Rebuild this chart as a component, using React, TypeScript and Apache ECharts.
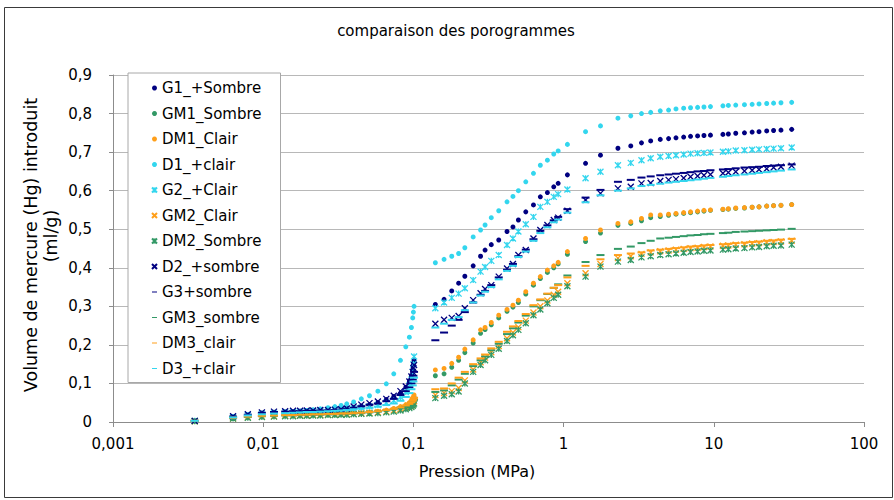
import React, { useEffect, useRef } from "react";
import * as echarts from "echarts";

// ---- data -------------------------------------------------------------
// low-pressure (MPa) and high-pressure (MPa) measurement points
const LP_P = [0.0035, 0.0063, 0.0079, 0.0098, 0.0118, 0.014, 0.0158, 0.0176, 0.0195, 0.0215, 0.024, 0.027, 0.03, 0.033, 0.036, 0.04, 0.045, 0.051, 0.058, 0.066, 0.074, 0.082, 0.089, 0.094, 0.097, 0.099, 0.1, 0.101];
const HP_P = [0.14, 0.16, 0.18, 0.2, 0.22, 0.25, 0.28, 0.3, 0.33, 0.37, 0.42, 0.46, 0.5, 0.56, 0.63, 0.7, 0.78, 0.86, 0.92, 1.06, 1.4, 1.76, 2.3, 2.8, 3.3, 3.8, 4.4, 5.0, 5.6, 6.3, 7.0, 7.8, 8.6, 9.5, 11.5, 12.5, 14, 16, 18, 20, 22.5, 25, 28, 33];

const G1_LP = [0.003, 0.014, 0.019, 0.023, 0.025, 0.026, 0.027, 0.028, 0.029, 0.03, 0.031, 0.032, 0.033, 0.034, 0.036, 0.038, 0.041, 0.045, 0.05, 0.058, 0.066, 0.075, 0.09, 0.105, 0.12, 0.135, 0.15, 0.16];
const G1_HP = [0.305, 0.318, 0.34, 0.36, 0.378, 0.405, 0.43, 0.446, 0.46, 0.472, 0.494, 0.506, 0.524, 0.545, 0.563, 0.584, 0.595, 0.61, 0.619, 0.641, 0.671, 0.692, 0.71, 0.716, 0.724, 0.729, 0.733, 0.735, 0.737, 0.739, 0.741, 0.742, 0.743, 0.744, 0.746, 0.747, 0.749, 0.75, 0.752, 0.753, 0.755, 0.756, 0.757, 0.759];

const GM1_LP = [0.003, 0.01, 0.012, 0.014, 0.015, 0.016, 0.017, 0.017, 0.018, 0.018, 0.019, 0.019, 0.02, 0.02, 0.021, 0.022, 0.023, 0.025, 0.027, 0.03, 0.033, 0.037, 0.042, 0.046, 0.05, 0.055, 0.06, 0.065];
const GM1_HP = [0.12, 0.125, 0.142, 0.16, 0.18, 0.205, 0.23, 0.24, 0.252, 0.27, 0.287, 0.298, 0.31, 0.332, 0.355, 0.372, 0.388, 0.4, 0.41, 0.435, 0.468, 0.49, 0.51, 0.515, 0.522, 0.53, 0.533, 0.536, 0.539, 0.541, 0.543, 0.545, 0.547, 0.549, 0.551, 0.552, 0.554, 0.555, 0.557, 0.558, 0.56, 0.561, 0.562, 0.564];

const DM1_LP = [0.003, 0.01, 0.013, 0.015, 0.016, 0.017, 0.018, 0.018, 0.019, 0.019, 0.02, 0.02, 0.021, 0.021, 0.022, 0.023, 0.024, 0.026, 0.028, 0.031, 0.035, 0.04, 0.045, 0.05, 0.055, 0.06, 0.065, 0.07];
const DM1_HP = [0.135, 0.139, 0.152, 0.168, 0.189, 0.213, 0.239, 0.245, 0.258, 0.277, 0.292, 0.303, 0.316, 0.338, 0.36, 0.377, 0.394, 0.405, 0.414, 0.442, 0.476, 0.498, 0.515, 0.519, 0.528, 0.537, 0.537, 0.539, 0.541, 0.543, 0.545, 0.547, 0.549, 0.55, 0.552, 0.553, 0.555, 0.556, 0.557, 0.558, 0.56, 0.561, 0.562, 0.564];

const D1_LP = [0.003, 0.013, 0.018, 0.021, 0.023, 0.025, 0.026, 0.028, 0.03, 0.032, 0.034, 0.037, 0.04, 0.043, 0.047, 0.052, 0.06, 0.068, 0.08, 0.099, 0.125, 0.16, 0.195, 0.22, 0.245, 0.27, 0.285, 0.3];
const D1_HP = [0.413, 0.422, 0.43, 0.437, 0.452, 0.48, 0.498, 0.511, 0.53, 0.548, 0.571, 0.585, 0.6, 0.623, 0.645, 0.666, 0.679, 0.695, 0.703, 0.72, 0.753, 0.768, 0.788, 0.794, 0.8, 0.803, 0.807, 0.809, 0.812, 0.814, 0.815, 0.816, 0.817, 0.818, 0.82, 0.821, 0.822, 0.823, 0.824, 0.825, 0.826, 0.827, 0.828, 0.829];

const G2_LP = [0.003, 0.013, 0.018, 0.022, 0.024, 0.025, 0.026, 0.027, 0.028, 0.028, 0.029, 0.03, 0.031, 0.032, 0.033, 0.035, 0.037, 0.04, 0.044, 0.05, 0.056, 0.065, 0.078, 0.095, 0.11, 0.13, 0.15, 0.17];
const G2_HP = [0.295, 0.31, 0.322, 0.333, 0.347, 0.368, 0.39, 0.402, 0.418, 0.433, 0.459, 0.476, 0.494, 0.513, 0.532, 0.558, 0.571, 0.584, 0.591, 0.603, 0.632, 0.649, 0.666, 0.672, 0.679, 0.684, 0.688, 0.69, 0.692, 0.694, 0.696, 0.697, 0.698, 0.699, 0.701, 0.702, 0.704, 0.705, 0.706, 0.707, 0.708, 0.709, 0.71, 0.712];

const GM2_LP = [0.002, 0.009, 0.012, 0.014, 0.015, 0.016, 0.016, 0.017, 0.017, 0.018, 0.018, 0.019, 0.019, 0.02, 0.02, 0.021, 0.022, 0.023, 0.025, 0.027, 0.03, 0.033, 0.037, 0.04, 0.043, 0.046, 0.05, 0.054];
const GM2_HP = [0.07, 0.075, 0.08, 0.088, 0.108, 0.136, 0.155, 0.167, 0.181, 0.197, 0.217, 0.232, 0.246, 0.263, 0.284, 0.3, 0.315, 0.33, 0.338, 0.36, 0.386, 0.41, 0.425, 0.43, 0.436, 0.44, 0.443, 0.445, 0.447, 0.449, 0.451, 0.452, 0.454, 0.455, 0.457, 0.458, 0.46, 0.461, 0.463, 0.464, 0.466, 0.467, 0.468, 0.47];

const DM2_LP = [0.002, 0.009, 0.011, 0.013, 0.014, 0.015, 0.015, 0.016, 0.016, 0.017, 0.017, 0.018, 0.018, 0.019, 0.019, 0.02, 0.021, 0.022, 0.023, 0.025, 0.027, 0.03, 0.033, 0.036, 0.039, 0.042, 0.045, 0.048];
const DM2_HP = [0.062, 0.068, 0.072, 0.079, 0.1, 0.13, 0.148, 0.16, 0.174, 0.19, 0.21, 0.225, 0.239, 0.256, 0.277, 0.292, 0.308, 0.322, 0.33, 0.352, 0.377, 0.403, 0.416, 0.42, 0.427, 0.43, 0.433, 0.435, 0.437, 0.439, 0.441, 0.442, 0.444, 0.445, 0.447, 0.448, 0.45, 0.451, 0.453, 0.454, 0.456, 0.457, 0.458, 0.46];

const D2_LP = [0.003, 0.015, 0.02, 0.025, 0.027, 0.028, 0.029, 0.029, 0.03, 0.03, 0.031, 0.031, 0.032, 0.033, 0.035, 0.04, 0.045, 0.049, 0.053, 0.06, 0.068, 0.08, 0.092, 0.105, 0.118, 0.13, 0.14, 0.148];
const D2_HP = [0.255, 0.265, 0.27, 0.275, 0.295, 0.316, 0.334, 0.345, 0.355, 0.377, 0.398, 0.41, 0.433, 0.446, 0.476, 0.498, 0.511, 0.524, 0.53, 0.548, 0.576, 0.593, 0.606, 0.61, 0.619, 0.62, 0.625, 0.628, 0.63, 0.633, 0.636, 0.638, 0.64, 0.642, 0.645, 0.647, 0.649, 0.651, 0.653, 0.655, 0.657, 0.66, 0.662, 0.665];

const G3_LP = [0.003, 0.014, 0.019, 0.024, 0.026, 0.027, 0.028, 0.028, 0.029, 0.029, 0.03, 0.03, 0.031, 0.032, 0.033, 0.037, 0.041, 0.045, 0.048, 0.054, 0.06, 0.07, 0.08, 0.09, 0.1, 0.11, 0.12, 0.13];
const G3_HP = [0.212, 0.232, 0.25, 0.265, 0.285, 0.31, 0.33, 0.34, 0.355, 0.375, 0.395, 0.41, 0.43, 0.447, 0.474, 0.496, 0.51, 0.523, 0.532, 0.552, 0.582, 0.602, 0.623, 0.628, 0.634, 0.637, 0.64, 0.642, 0.644, 0.646, 0.648, 0.65, 0.651, 0.653, 0.655, 0.656, 0.658, 0.66, 0.661, 0.662, 0.664, 0.665, 0.666, 0.668];

const GM3_LP = [0.003, 0.01, 0.013, 0.015, 0.016, 0.017, 0.017, 0.018, 0.018, 0.019, 0.019, 0.02, 0.02, 0.021, 0.021, 0.022, 0.023, 0.025, 0.027, 0.03, 0.033, 0.037, 0.041, 0.045, 0.048, 0.051, 0.055, 0.058];
const GM3_HP = [0.078, 0.082, 0.095, 0.11, 0.125, 0.145, 0.16, 0.17, 0.186, 0.203, 0.228, 0.243, 0.258, 0.276, 0.3, 0.316, 0.332, 0.348, 0.357, 0.38, 0.415, 0.433, 0.449, 0.455, 0.464, 0.47, 0.476, 0.478, 0.48, 0.482, 0.484, 0.485, 0.487, 0.488, 0.49, 0.491, 0.493, 0.494, 0.495, 0.496, 0.497, 0.498, 0.499, 0.501];

const DM3_LP = [0.003, 0.011, 0.014, 0.016, 0.017, 0.018, 0.018, 0.019, 0.019, 0.02, 0.02, 0.021, 0.021, 0.022, 0.022, 0.023, 0.024, 0.026, 0.028, 0.031, 0.034, 0.038, 0.043, 0.047, 0.051, 0.055, 0.059, 0.063];
const DM3_HP = [0.085, 0.087, 0.1, 0.115, 0.13, 0.15, 0.165, 0.175, 0.191, 0.208, 0.234, 0.248, 0.262, 0.28, 0.303, 0.318, 0.333, 0.348, 0.355, 0.375, 0.405, 0.422, 0.433, 0.437, 0.44, 0.445, 0.447, 0.449, 0.451, 0.453, 0.455, 0.456, 0.458, 0.459, 0.461, 0.462, 0.464, 0.465, 0.467, 0.468, 0.47, 0.471, 0.473, 0.475];

const D3_LP = [0.003, 0.012, 0.017, 0.02, 0.022, 0.023, 0.024, 0.025, 0.026, 0.026, 0.027, 0.028, 0.029, 0.03, 0.031, 0.033, 0.035, 0.037, 0.04, 0.044, 0.048, 0.055, 0.065, 0.075, 0.085, 0.095, 0.105, 0.115];
const D3_HP = [0.245, 0.255, 0.265, 0.272, 0.29, 0.31, 0.328, 0.338, 0.35, 0.37, 0.392, 0.405, 0.428, 0.442, 0.47, 0.49, 0.505, 0.518, 0.525, 0.543, 0.57, 0.588, 0.6, 0.606, 0.612, 0.615, 0.618, 0.621, 0.623, 0.625, 0.627, 0.629, 0.631, 0.633, 0.636, 0.638, 0.64, 0.642, 0.644, 0.646, 0.648, 0.65, 0.652, 0.655];

const X_TICK_LABELS = ["0,001", "0,01", "0,1", "1", "10", "100"];
const Y_TICK_LABELS = ["0", "0,1", "0,2", "0,3", "0,4", "0,5", "0,6", "0,7", "0,8", "0,9"];

const TITLE = "comparaison des porogrammes";
const X_NAME = "Pression (MPa)";
const Y_NAME_1 = "Volume de mercure (Hg) introduit";
const Y_NAME_2 = "(ml/g)";

// ---- styles -----------------------------------------------------------
const FONT = "DejaVu Sans";
const NAVY = "#000080";
const GREEN = "#339966";
const ORANGE = "#FF9F1A";
const CYAN = "#33D6EE";

const DOT = "circle";
const XMARK = "path://M0,0L10,10M10,0L0,10";
const STAR = "path://M0,0L10,10M10,0L0,10M5,0L5,10";
const DASH = "path://M0,0H10V2H0Z";

type Def = { name: string; color: string; symbol: string; size: number | number[]; stroke: boolean; lp: number[]; hp: number[] };

const DEFS: Def[] = [
  { name: "G1_+Sombre", color: NAVY, symbol: DOT, size: 5, stroke: false, lp: G1_LP, hp: G1_HP },
  { name: "GM1_Sombre", color: GREEN, symbol: DOT, size: 5, stroke: false, lp: GM1_LP, hp: GM1_HP },
  { name: "DM1_Clair", color: ORANGE, symbol: DOT, size: 5, stroke: false, lp: DM1_LP, hp: DM1_HP },
  { name: "D1_+clair", color: CYAN, symbol: DOT, size: 5, stroke: false, lp: D1_LP, hp: D1_HP },
  { name: "G2_+Clair", color: CYAN, symbol: STAR, size: 6, stroke: true, lp: G2_LP, hp: G2_HP },
  { name: "GM2_Clair", color: ORANGE, symbol: XMARK, size: 6, stroke: true, lp: GM2_LP, hp: GM2_HP },
  { name: "DM2_Sombre", color: GREEN, symbol: STAR, size: 6, stroke: true, lp: DM2_LP, hp: DM2_HP },
  { name: "D2_+sombre", color: NAVY, symbol: XMARK, size: 6, stroke: true, lp: D2_LP, hp: D2_HP },
  { name: "G3+sombre", color: NAVY, symbol: DASH, size: [8, 2], stroke: false, lp: G3_LP, hp: G3_HP },
  { name: "GM3_sombre", color: GREEN, symbol: DASH, size: [8, 2], stroke: false, lp: GM3_LP, hp: GM3_HP },
  { name: "DM3_clair", color: ORANGE, symbol: DASH, size: [8, 2], stroke: false, lp: DM3_LP, hp: DM3_HP },
  { name: "D3_+clair", color: CYAN, symbol: DASH, size: [8, 2], stroke: false, lp: D3_LP, hp: D3_HP },
];

export default function App() {
  const ref = useRef<HTMLDivElement>(null);

  useEffect(() => {
    if (!ref.current) return;
    const chart = echarts.init(ref.current, undefined, { renderer: "svg" });

    const series = DEFS.map((d, k) => ({
      type: "scatter",
      name: d.name,
      data: [
        ...LP_P.map((p, i) => [p, d.lp[i]]),
        ...HP_P.map((p, i) => [p, d.hp[i]]),
      ],
      symbol: d.symbol,
      symbolSize: d.size,
      symbolKeepAspect: false,
      silent: true,
      z: 2 + k * 0.01,
      itemStyle: d.stroke
        ? { color: d.color, borderColor: d.color, borderWidth: 1.3, opacity: 1 }
        : { color: d.color, borderWidth: 0, opacity: 1 },
    }));

    const gray = "#8c8c8c";

    chart.setOption({
      animation: false,
      backgroundColor: "#ffffff",
      textStyle: { fontFamily: FONT },
      grid: { left: 113, right: 30, top: 75, bottom: 78, containLabel: false },
      xAxis: {
        type: "log",
        logBase: 10,
        min: 0.001,
        max: 100,
        axisLine: { show: true, lineStyle: { color: gray, width: 1 } },
        axisTick: { show: true, length: 5, lineStyle: { color: gray } },
        minorTick: { show: false },
        splitLine: { show: false },
        axisLabel: {
          fontFamily: FONT,
          fontSize: 15,
          color: "#000",
          margin: 14,
          formatter: (v: number) => X_TICK_LABELS[Math.round(Math.log10(v)) + 3] ?? "",
        },
      },
      yAxis: {
        type: "value",
        min: 0,
        max: 0.9,
        interval: 0.1,
        axisLine: { show: true, lineStyle: { color: gray, width: 1 } },
        axisTick: { show: true, length: 4, lineStyle: { color: gray } },
        splitLine: { show: true, lineStyle: { color: "#b8b8b8", width: 1 } },
        axisLabel: {
          fontFamily: FONT,
          fontSize: 15,
          color: "#000",
          margin: 21,
          formatter: (v: number) => Y_TICK_LABELS[Math.round(v * 10)] ?? "",
        },
      },
      legend: {
        orient: "vertical",
        left: 128,
        top: 73,
        padding: [7, 19, 6, 23],
        itemWidth: 5,
        itemHeight: 5,
        itemGap: 9.5,
        backgroundColor: "#ffffff",
        borderColor: "#a8a8a8",
        borderWidth: 1,
        borderRadius: 0,
        selectedMode: false,
        textStyle: { fontFamily: FONT, fontSize: 15, color: "#000", lineHeight: 16 },
        data: DEFS.map((d) => d.name),
      },
      graphic: [
        {
          type: "rect",
          shape: { x: 4.5, y: 7.5, width: 888, height: 490 },
          style: { fill: "none", stroke: "#3a3a3a", lineWidth: 1 },
          silent: true,
          z: 0,
        },
        {
          type: "text",
          x: 456,
          y: 31,
          style: { text: TITLE, fill: "#000", font: `15px "${FONT}"`, align: "center", verticalAlign: "middle" },
          silent: true,
        },
        {
          type: "text",
          x: 477,
          y: 471,
          style: { text: X_NAME, fill: "#000", font: `16px "${FONT}"`, align: "center", verticalAlign: "middle" },
          silent: true,
        },
        {
          type: "text",
          x: 31,
          y: 245,
          rotation: Math.PI / 2,
          style: { text: Y_NAME_1, fill: "#000", font: `17.5px "${FONT}"`, align: "center", verticalAlign: "middle" },
          silent: true,
        },
        {
          type: "text",
          x: 51,
          y: 236,
          rotation: Math.PI / 2,
          style: { text: Y_NAME_2, fill: "#000", font: `17.5px "${FONT}"`, align: "center", verticalAlign: "middle" },
          silent: true,
        },
      ],
      series,
    });

    return () => chart.dispose();
  }, []);

  return (
    <div
      ref={ref}
      style={{ position: "absolute", left: 0, top: 0, width: 894, height: 500, background: "#fff" }}
    />
  );
}
